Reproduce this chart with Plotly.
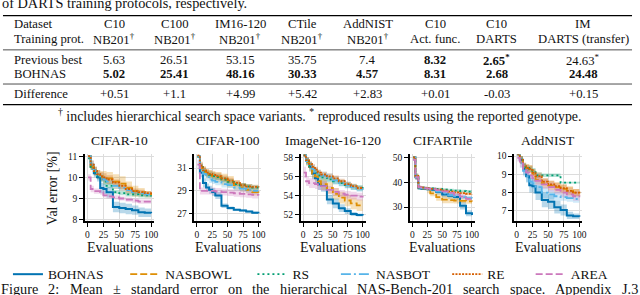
import plotly.graph_objects as go

# ---------------- data ----------------
EVALS = [1, 5, 10, 15, 20, 25, 30, 40, 50, 60, 70, 80, 90, 100]
METHODS = ["BOHNAS", "NASBOWL", "RS", "NASBOT", "RE", "AREA"]

# CIFAR-10
C10_BOHNAS = [11.0, 10.5, 10.2, 10.0, 9.5, 9.45, 9.3, 8.6, 8.55, 8.5, 8.45, 8.35, 8.33, 8.3]
C10_NASBOWL = [11.0, 10.5, 10.3, 10.15, 10.05, 10.0, 9.95, 9.8, 9.7, 9.5, 9.35, 9.3, 9.2, 9.15]
C10_RS = [10.9, 10.5, 10.25, 10.05, 9.95, 9.8, 9.6, 9.3, 9.25, 9.2, 9.2, 9.15, 9.15, 9.1]
C10_NASBOT = [11.0, 10.6, 10.3, 10.1, 10.0, 9.9, 9.8, 9.6, 9.5, 9.4, 9.3, 9.25, 9.2, 9.2]
C10_RE = [11.0, 10.6, 10.3, 10.15, 10.05, 10.0, 9.9, 9.75, 9.6, 9.45, 9.35, 9.3, 9.25, 9.2]
C10_AREA = [10.0, 9.45, 9.35, 9.35, 9.3, 9.15, 9.1, 9.05, 9.0, 8.95, 8.9, 8.85, 8.85, 8.85]
C10_BOHNAS_SE = [0.0, 0.15, 0.2, 0.2, 0.25, 0.25, 0.25, 0.25, 0.25, 0.25, 0.22, 0.22, 0.2, 0.2]
C10_NASBOWL_SE = [0.0, 0.15, 0.2, 0.2, 0.25, 0.3, 0.3, 0.35, 0.35, 0.3, 0.25, 0.2, 0.15, 0.15]
C10_RS_SE = [0.0, 0.15, 0.15, 0.15, 0.15, 0.15, 0.12, 0.1, 0.1, 0.1, 0.1, 0.1, 0.1, 0.1]
C10_NASBOT_SE = [0.0, 0.2, 0.2, 0.2, 0.2, 0.15, 0.15, 0.15, 0.15, 0.12, 0.12, 0.12, 0.1, 0.1]
C10_RE_SE = [0.0, 0.2, 0.2, 0.2, 0.2, 0.2, 0.2, 0.15, 0.15, 0.15, 0.12, 0.12, 0.1, 0.1]
C10_AREA_SE = [0.15, 0.15, 0.12, 0.12, 0.12, 0.1, 0.1, 0.1, 0.1, 0.1, 0.1, 0.1, 0.1, 0.1]

# CIFAR-100
C100_BOHNAS = [32.0, 30.6, 29.7, 29.3, 29.1, 28.9, 28.6, 27.7, 27.5, 27.35, 27.3, 27.2, 27.1, 27.05]
C100_NASBOWL = [32.0, 31.0, 30.7, 30.5, 30.4, 30.3, 30.2, 30.0, 29.8, 29.5, 29.3, 29.1, 28.9, 28.8]
C100_RS = [32.0, 31.1, 30.7, 30.5, 30.4, 30.3, 30.2, 30.0, 29.8, 29.6, 29.5, 29.4, 29.3, 29.3]
C100_NASBOT = [32.0, 31.0, 30.5, 30.2, 30.0, 29.9, 29.8, 29.6, 29.5, 29.3, 29.2, 29.1, 29.0, 29.0]
C100_RE = [32.1, 31.2, 30.8, 30.6, 30.5, 30.4, 30.3, 30.1, 29.9, 29.7, 29.5, 29.4, 29.35, 29.3]
C100_AREA = [31.3, 29.0, 29.0, 29.0, 29.0, 29.0, 28.95, 28.9, 28.85, 28.8, 28.75, 28.7, 28.65, 28.6]
C100_BOHNAS_SE = [0.0, 0.4, 0.4, 0.35, 0.35, 0.35, 0.3, 0.2, 0.15, 0.1, 0.1, 0.1, 0.1, 0.1]
C100_NASBOWL_SE = [0.0, 0.4, 0.4, 0.4, 0.4, 0.4, 0.45, 0.5, 0.5, 0.4, 0.35, 0.3, 0.3, 0.3]
C100_RS_SE = [0.0, 0.3, 0.3, 0.3, 0.3, 0.3, 0.25, 0.25, 0.25, 0.2, 0.2, 0.2, 0.2, 0.2]
C100_NASBOT_SE = [0.0, 0.35, 0.35, 0.35, 0.3, 0.3, 0.3, 0.3, 0.25, 0.25, 0.25, 0.25, 0.25, 0.25]
C100_RE_SE = [0.0, 0.35, 0.35, 0.3, 0.3, 0.3, 0.3, 0.25, 0.25, 0.25, 0.2, 0.2, 0.2, 0.2]
C100_AREA_SE = [0.4, 0.3, 0.3, 0.3, 0.3, 0.3, 0.3, 0.3, 0.3, 0.3, 0.3, 0.3, 0.3, 0.3]

# ImageNet-16-120
IM_BOHNAS = [58.2, 57.6, 57.0, 56.3, 55.8, 55.2, 55.0, 53.6, 53.2, 52.7, 52.4, 52.1, 52.0, 51.95]
IM_NASBOWL = [58.2, 57.5, 57.0, 56.3, 56.0, 55.5, 55.2, 54.8, 54.2, 53.8, 53.5, 53.2, 53.0, 52.9]
IM_RS = [58.2, 57.6, 57.1, 56.7, 56.4, 56.1, 55.9, 55.7, 55.5, 55.3, 55.1, 54.9, 54.8, 54.7]
IM_NASBOT = [58.2, 57.6, 57.2, 56.8, 56.5, 56.3, 56.1, 55.9, 55.6, 55.3, 55.1, 54.9, 54.7, 54.6]
IM_RE = [58.2, 57.7, 57.3, 57.0, 56.7, 56.4, 56.2, 56.0, 55.8, 55.5, 55.2, 55.0, 54.8, 54.7]
IM_AREA = [56.4, 55.5, 55.3, 55.3, 55.2, 55.1, 55.0, 54.6, 54.4, 54.2, 54.1, 54.0, 53.9, 53.8]
IM_BOHNAS_SE = [0.0, 0.4, 0.5, 0.6, 0.6, 0.6, 0.6, 0.5, 0.5, 0.4, 0.3, 0.2, 0.15, 0.1]
IM_NASBOWL_SE = [0.0, 0.4, 0.4, 0.5, 0.5, 0.5, 0.6, 0.6, 0.6, 0.6, 0.6, 0.6, 0.6, 0.6]
IM_RS_SE = [0.0, 0.3, 0.3, 0.3, 0.3, 0.3, 0.3, 0.3, 0.3, 0.3, 0.3, 0.3, 0.3, 0.3]
IM_NASBOT_SE = [0.0, 0.3, 0.3, 0.4, 0.4, 0.4, 0.4, 0.4, 0.4, 0.35, 0.35, 0.3, 0.3, 0.3]
IM_RE_SE = [0.0, 0.3, 0.3, 0.3, 0.3, 0.3, 0.3, 0.3, 0.3, 0.25, 0.25, 0.25, 0.2, 0.2]
IM_AREA_SE = [0.6, 0.5, 0.5, 0.5, 0.5, 0.5, 0.5, 0.4, 0.4, 0.4, 0.4, 0.4, 0.4, 0.4]

# CIFARTile
CT_BOHNAS = [50.0, 42.0, 37.6, 37.4, 37.3, 37.2, 37.0, 36.0, 35.0, 34.5, 34.0, 30.5, 27.5, 26.8]
CT_NASBOWL = [50.0, 42.0, 37.8, 37.5, 37.4, 36.5, 35.5, 34.0, 33.0, 32.8, 32.6, 32.5, 32.3, 32.2]
CT_RS = [50.0, 42.5, 38.0, 37.8, 37.7, 37.6, 37.5, 37.3, 37.0, 36.8, 36.6, 36.4, 36.2, 36.1]
CT_NASBOT = [50.0, 42.0, 37.8, 37.6, 37.5, 37.3, 37.0, 36.2, 35.5, 34.8, 34.3, 34.0, 33.6, 33.3]
CT_RE = [50.0, 42.5, 38.0, 37.8, 37.7, 37.5, 37.3, 37.0, 36.6, 36.2, 35.9, 35.6, 35.3, 35.1]
CT_AREA = [49.0, 42.0, 38.0, 37.8, 37.6, 37.4, 37.2, 36.8, 36.3, 35.7, 35.0, 34.2, 33.3, 32.6]
CT_BOHNAS_SE = [0.0, 1.0, 0.6, 0.6, 0.6, 0.6, 0.8, 1.0, 1.2, 1.2, 1.3, 1.5, 1.2, 1.0]
CT_NASBOWL_SE = [0.0, 1.0, 0.6, 0.6, 0.6, 1.0, 1.2, 1.5, 1.5, 1.3, 1.2, 1.0, 1.0, 1.0]
CT_RS_SE = [0.0, 1.0, 0.6, 0.5, 0.5, 0.5, 0.5, 0.5, 0.6, 0.6, 0.6, 0.6, 0.6, 0.6]
CT_NASBOT_SE = [0.0, 1.0, 0.6, 0.6, 0.6, 0.6, 0.7, 0.8, 0.8, 0.8, 0.8, 0.8, 0.8, 0.8]
CT_RE_SE = [0.0, 1.0, 0.6, 0.6, 0.5, 0.5, 0.5, 0.6, 0.6, 0.6, 0.6, 0.6, 0.6, 0.6]
CT_AREA_SE = [0.5, 1.0, 0.6, 0.6, 0.6, 0.6, 0.6, 0.7, 0.8, 0.8, 0.9, 0.9, 0.9, 0.9]

# AddNIST
AN_BOHNAS = [10.1, 9.8, 9.3, 8.9, 8.4, 8.35, 8.0, 7.6, 7.5, 7.2, 7.05, 6.75, 6.7, 6.68]
AN_NASBOWL = [10.1, 9.8, 9.4, 9.35, 9.3, 9.0, 8.7, 8.5, 8.4, 8.3, 8.2, 8.1, 8.0, 7.95]
AN_RS = [10.1, 9.8, 9.4, 9.35, 9.3, 9.2, 8.95, 8.95, 8.95, 8.95, 8.55, 8.55, 8.55, 8.55]
AN_NASBOT = [10.1, 9.6, 9.2, 8.9, 8.6, 8.5, 8.3, 8.0, 7.9, 7.8, 7.75, 7.7, 7.65, 7.6]
AN_RE = [10.1, 9.8, 9.45, 9.35, 9.3, 9.1, 8.9, 8.6, 8.45, 8.35, 8.25, 8.1, 8.0, 7.85]
AN_AREA = [9.9, 9.6, 9.3, 9.1, 8.95, 8.8, 8.65, 8.45, 8.3, 8.15, 8.0, 7.9, 7.8, 7.75]
AN_BOHNAS_SE = [0.0, 0.2, 0.3, 0.35, 0.4, 0.4, 0.4, 0.4, 0.4, 0.35, 0.3, 0.2, 0.15, 0.1]
AN_NASBOWL_SE = [0.0, 0.2, 0.2, 0.2, 0.2, 0.25, 0.25, 0.25, 0.25, 0.25, 0.25, 0.25, 0.2, 0.2]
AN_RS_SE = [0.0, 0.2, 0.2, 0.15, 0.15, 0.15, 0.15, 0.1, 0.1, 0.1, 0.05, 0.05, 0.05, 0.05]
AN_NASBOT_SE = [0.0, 0.25, 0.3, 0.3, 0.3, 0.3, 0.3, 0.3, 0.25, 0.25, 0.2, 0.2, 0.2, 0.2]
AN_RE_SE = [0.0, 0.2, 0.2, 0.2, 0.2, 0.2, 0.2, 0.2, 0.2, 0.2, 0.2, 0.2, 0.2, 0.2]
AN_AREA_SE = [0.2, 0.2, 0.2, 0.2, 0.2, 0.2, 0.25, 0.25, 0.25, 0.25, 0.25, 0.25, 0.25, 0.25]

PANEL_TITLES = ["CIFAR-10", "CIFAR-100", "ImageNet-16-120", "CIFARTile", "AddNIST"]
PANEL_MEANS = [
    [C10_BOHNAS, C10_NASBOWL, C10_RS, C10_NASBOT, C10_RE, C10_AREA],
    [C100_BOHNAS, C100_NASBOWL, C100_RS, C100_NASBOT, C100_RE, C100_AREA],
    [IM_BOHNAS, IM_NASBOWL, IM_RS, IM_NASBOT, IM_RE, IM_AREA],
    [CT_BOHNAS, CT_NASBOWL, CT_RS, CT_NASBOT, CT_RE, CT_AREA],
    [AN_BOHNAS, AN_NASBOWL, AN_RS, AN_NASBOT, AN_RE, AN_AREA],
]
PANEL_SES = [
    [C10_BOHNAS_SE, C10_NASBOWL_SE, C10_RS_SE, C10_NASBOT_SE, C10_RE_SE, C10_AREA_SE],
    [C100_BOHNAS_SE, C100_NASBOWL_SE, C100_RS_SE, C100_NASBOT_SE, C100_RE_SE, C100_AREA_SE],
    [IM_BOHNAS_SE, IM_NASBOWL_SE, IM_RS_SE, IM_NASBOT_SE, IM_RE_SE, IM_AREA_SE],
    [CT_BOHNAS_SE, CT_NASBOWL_SE, CT_RS_SE, CT_NASBOT_SE, CT_RE_SE, CT_AREA_SE],
    [AN_BOHNAS_SE, AN_NASBOWL_SE, AN_RS_SE, AN_NASBOT_SE, AN_RE_SE, AN_AREA_SE],
]
PANEL_YTICKS = [[8, 9, 10, 11], [27, 29, 31], [52, 54, 56, 58], [30, 40, 50], [7, 8, 9, 10]]
X_TICKS = [0, 25, 50, 75, 100]

# table
TABLE_DATASET = ["C10", "C100", "IM16-120", "CTile", "AddNIST", "C10", "C10", "IM"]
TABLE_PROTOCOL = ["NB201<sup>†</sup>", "NB201<sup>†</sup>", "NB201<sup>†</sup>", "NB201<sup>†</sup>",
                  "NB201<sup>†</sup>", "Act. func.", "DARTS", "DARTS (transfer)"]
PREV_BEST = ["5.63", "26.51", "53.15", "35.75", "7.4", "8.32", "2.65<sup>*</sup>", "24.63<sup>*</sup>"]
PREV_BOLD = [False, False, False, False, False, True, True, False]
BOHNAS_BEST = ["5.02", "25.41", "48.16", "30.33", "4.57", "8.31", "2.68", "24.48"]
DIFFERENCE = ["+0.51", "+1.1", "+4.99", "+5.42", "+2.83", "+0.01", "-0.03", "+0.15"]

TOP_LINE = "of DARTS training protocols, respectively."
FOOTNOTE = ("<sup>†</sup> includes hierarchical search space variants. "
            "<sup>*</sup> reproduced results using the reported genotype.")
CAPTION = ("Figure 2: Mean ± standard error on the hierarchical NAS-Bench-201 "
           "search space. Appendix J.3")

# ---------------- styles / layout ----------------
W, H = 640, 295
COLORS = ["#0173b2", "#de8f05", "#029e73", "#56b4e9", "#d55e00", "#cc78bc"]
FILLS = ["rgba(1,115,178,0.28)", "rgba(222,143,5,0.28)", "rgba(2,158,115,0.28)",
         "rgba(86,180,233,0.28)", "rgba(213,94,0,0.28)", "rgba(204,120,188,0.28)"]
DASHES = ["solid", "7px,3px", "2px,3px", "10px,3px,2px,3px", "2px,1.3px", "7px,3px"]
SERIF = "Liberation Serif"
TEXT = "#111111"

# pixel placement of the panels
PANEL_PX = [(85.5, 155.2), (195.6, 263.1), (302.6, 367.9), (412.6, 477.9), (517.5, 586.1)]
PLOT_TOP, PLOT_BOT = 155, 223
PANEL_YRANGE = [[7.95, 11.09], [26.4, 32.2], [51.4, 58.3], [24.5, 51.2], [6.46, 10.1]]
XRANGE = [-3.95, 104.95]

# Times-compatible advance widths (per 1000 em) for laying out the justified caption line
TIMES_W = {" ": 250, "a": 444, "b": 500, "c": 444, "d": 500, "e": 444, "f": 333, "g": 500,
           "h": 500, "i": 278, "j": 278, "k": 500, "l": 278, "m": 778, "n": 500, "o": 500,
           "p": 500, "q": 500, "r": 333, "s": 389, "t": 278, "u": 500, "v": 500, "w": 722,
           "x": 500, "y": 500, "z": 444, "A": 722, "B": 667, "C": 667, "D": 722, "E": 611,
           "F": 556, "G": 722, "H": 722, "I": 333, "J": 389, "K": 722, "L": 611, "M": 889,
           "N": 722, "O": 722, "P": 556, "Q": 722, "R": 667, "S": 556, "T": 611, "U": 722,
           "V": 722, "W": 944, "X": 722, "Y": 722, "Z": 611, ".": 250, ":": 278, "-": 333,
           "±": 564, ",": 250}


def px(x):
    return x / W


def py(y):
    return 1 - y / H


def text_w(s, size):
    return sum(TIMES_W.get(ch, 500) for ch in s) / 1000.0 * size


fig = go.Figure()

for p in range(5):
    xa = "x" if p == 0 else f"x{p + 1}"
    ya = "y" if p == 0 else f"y{p + 1}"
    for k, m in enumerate(METHODS):
        mean = PANEL_MEANS[p][k]
        se = PANEL_SES[p][k]
        upper = [v + s for v, s in zip(mean, se)]
        lower = [v - s for v, s in zip(mean, se)]
        fig.add_trace(go.Scatter(x=EVALS, y=upper, mode="lines", line=dict(width=0, shape="hv"),
                                 showlegend=False, hoverinfo="skip", xaxis=xa, yaxis=ya))
        fig.add_trace(go.Scatter(x=EVALS, y=lower, mode="lines", line=dict(width=0, shape="hv"),
                                 fill="tonexty", fillcolor=FILLS[k],
                                 showlegend=False, hoverinfo="skip", xaxis=xa, yaxis=ya))
    for k, m in enumerate(METHODS):
        fig.add_trace(go.Scatter(
            x=EVALS, y=PANEL_MEANS[p][k], mode="lines", name=m,
            line=dict(color=COLORS[k], width=2 if k == 0 else 1.8, dash=DASHES[k], shape="hv"),
            showlegend=(p == 0), legend="legend" if k == 0 else f"legend{k + 1}",
            xaxis=xa, yaxis=ya))

layout = dict(
    width=W, height=H, margin=dict(l=0, r=0, t=0, b=0),
    paper_bgcolor="white", plot_bgcolor="white",
    font=dict(family=SERIF, size=13, color=TEXT),
)
axis_common = dict(showline=True, linecolor="black", linewidth=1.6, ticks="outside",
                   ticklen=4, tickwidth=1.3, tickcolor="black", showgrid=True,
                   gridcolor="#dcdcdc", gridwidth=1, zeroline=False,
                   tickfont=dict(family=SERIF, size=9.5, color=TEXT))
for p in range(5):
    sx = "" if p == 0 else str(p + 1)
    x0, x1 = PANEL_PX[p]
    layout[f"xaxis{sx}"] = dict(axis_common, domain=[px(x0), px(x1)], range=XRANGE,
                                tickvals=X_TICKS, anchor=f"y{sx}")
    layout[f"yaxis{sx}"] = dict(axis_common, domain=[py(PLOT_BOT), py(PLOT_TOP)],
                                range=PANEL_YRANGE[p], tickvals=PANEL_YTICKS[p],
                                anchor=f"x{sx}")

# legends (one per method so entries sit where the reference has them)
LEGEND_X = [8, 126, 254, 338, 450, 534]
for k in range(6):
    key = "legend" if k == 0 else f"legend{k + 1}"
    layout[key] = dict(x=px(LEGEND_X[k]), y=py(278), xanchor="left", yanchor="middle",
                       orientation="h", bgcolor="rgba(0,0,0,0)", borderwidth=0,
                       font=dict(family=SERIF, size=13.5, color=TEXT), itemwidth=30)

fig.update_layout(**layout)

ann = []
shapes = []

# running text at top (cut by the page edge, as in the reference)
ann.append(dict(x=px(0), y=py(0.5), xref="paper", yref="paper", xanchor="left", yanchor="middle",
                text=TOP_LINE, showarrow=False, font=dict(family=SERIF, size=14.3, color=TEXT)))

# table
COL_X = [115, 176, 242, 304, 370, 438, 500, 587]
ROW_Y = [22, 37, 58, 73, 93]
TFONT = dict(family=SERIF, size=12.7, color=TEXT)
row_labels = ["Dataset", "Training prot.", "Previous best", "BOHNAS", "Difference"]
for r, lab in enumerate(row_labels):
    ann.append(dict(x=px(12), y=py(ROW_Y[r]), xref="paper", yref="paper", xanchor="left",
                    yanchor="middle", text=lab, showarrow=False, font=TFONT))
for c in range(8):
    cells = [TABLE_DATASET[c], TABLE_PROTOCOL[c],
             f"<b>{PREV_BEST[c]}</b>" if PREV_BOLD[c] else PREV_BEST[c],
             f"<b>{BOHNAS_BEST[c]}</b>", DIFFERENCE[c]]
    for r, t in enumerate(cells):
        ann.append(dict(x=px(COL_X[c]), y=py(ROW_Y[r]), xref="paper", yref="paper",
                        xanchor="center", yanchor="middle", text=t, showarrow=False, font=TFONT))
for yy, lw in [(13, 1.3), (48, 0.7), (83, 0.7), (104, 1.3)]:
    shapes.append(dict(type="line", xref="paper", yref="paper", x0=px(3), x1=px(636),
                       y0=py(yy), y1=py(yy), line=dict(color="black", width=lw)))

ann.append(dict(x=px(321.5), y=py(115), xref="paper", yref="paper", xanchor="center",
                yanchor="middle", text=FOOTNOTE, showarrow=False,
                font=dict(family=SERIF, size=13.9, color=TEXT)))

# panel titles / x labels
for p in range(5):
    x0, x1 = PANEL_PX[p]
    cx = (x0 + x1) / 2
    ann.append(dict(x=px(cx), y=py(141), xref="paper", yref="paper", xanchor="center",
                    yanchor="middle", text=PANEL_TITLES[p], showarrow=False,
                    font=dict(family=SERIF, size=13.5, color=TEXT)))
    ann.append(dict(x=px(cx), y=py(250), xref="paper", yref="paper", xanchor="center",
                    yanchor="middle", text="Evaluations", showarrow=False,
                    font=dict(family=SERIF, size=14, color=TEXT)))

ann.append(dict(x=px(53), y=py(190), xref="paper", yref="paper", xanchor="center",
                yanchor="middle", text="Val error [%]", textangle=-90, showarrow=False,
                font=dict(family=SERIF, size=14, color=TEXT)))

# caption line (justified across the text block, cut off at the bottom edge)
CAP_SIZE = 14.3
CAP_LEFT, CAP_RIGHT = 0.0, 641.0
words = CAPTION.split(" ")
widths = [text_w(w_, CAP_SIZE) for w_ in words]
gap = (CAP_RIGHT - CAP_LEFT - sum(widths)) / (len(words) - 1)
xpos = CAP_LEFT
for w_, wd in zip(words, widths):
    ann.append(dict(x=px(xpos - 1), y=py(292.5), xref="paper", yref="paper", xanchor="left",
                    yanchor="middle", text=w_, showarrow=False,
                    font=dict(family=SERIF, size=CAP_SIZE, color=TEXT)))
    xpos += wd + gap

fig.update_layout(annotations=ann, shapes=shapes)
fig.write_html(
    "out.html",
    config={"displayModeBar": False},
    post_script="document.body.style.margin='0';document.body.style.padding='0';"
                "document.body.style.overflow='hidden';",
)
